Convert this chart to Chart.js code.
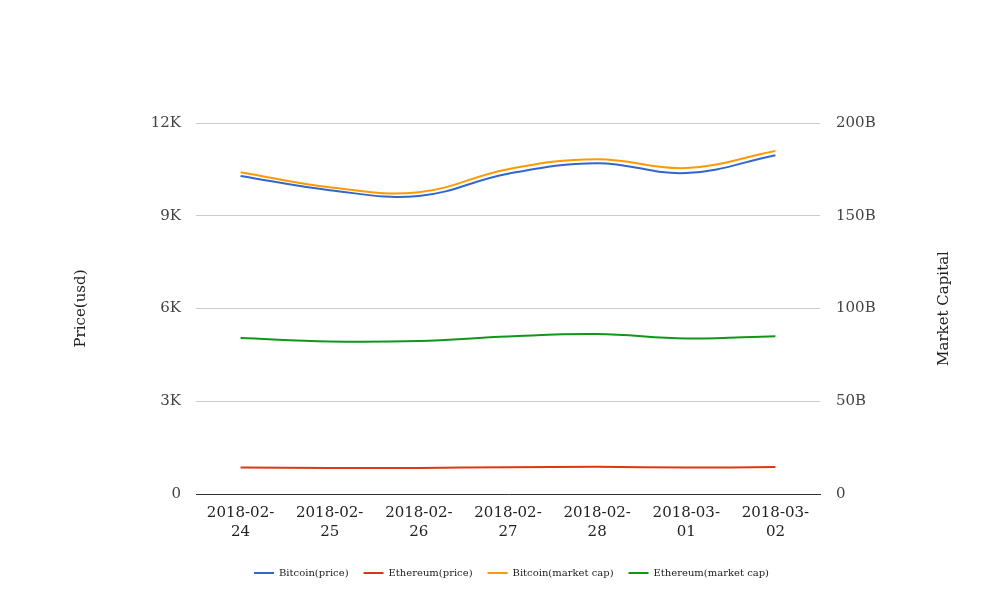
<!DOCTYPE html>
<html>
<head>
<meta charset="utf-8">
<script src="https://cdn.jsdelivr.net/npm/chart.js@4"></script>
<style>
html,body{margin:0;padding:0;background:#fff;}
#wrap{width:1008px;height:616px;position:relative;}
</style>
</head>
<body>
<div id="wrap"><canvas id="c" width="1008" height="616"></canvas></div>
<script>
const categories = [['2018-02-','24'],['2018-02-','25'],['2018-02-','26'],['2018-02-','27'],['2018-02-','28'],['2018-03-','01'],['2018-03-','02']];
const btcPrice = [10287, 9827, 9640, 10360, 10700, 10380, 10960];
const ethPrice = [860, 845, 845, 868, 878, 856, 870];
const btcCap = [173.5, 165.4, 162.7, 175.1, 180.5, 175.7, 184.9];
const ethCap = [84.1, 82.2, 82.5, 84.9, 86.2, 83.8, 85.1];
const priceTickLabels = ['0','3K','6K','9K','12K'];
const capTickLabels = ['0','50B','100B','150B','200B'];
const seriesNames = ['Bitcoin(price)','Ethereum(price)','Bitcoin(market cap)','Ethereum(market cap)'];
const leftTitle = 'Price(usd)';
const rightTitle = 'Market Capital';

const FONT = "'DejaVu Serif', serif";

const titlePlugin = {
  id: 'axisTitles',
  afterDraw(chart) {
    const ctx = chart.ctx;
    const ca = chart.chartArea;
    const cy = (ca.top + ca.bottom) / 2;
    [[81, leftTitle], [944, rightTitle]].forEach(([x, t]) => {
      ctx.save();
      ctx.font = "15px " + FONT;
      ctx.fillStyle = '#222';
      ctx.textAlign = 'center';
      ctx.textBaseline = 'middle';
      ctx.translate(x, cy);
      ctx.rotate(-Math.PI/2);
      ctx.fillText(t, 0, 0);
      ctx.restore();
    });
  }
};

function ds(label, data, color, axis) {
  return {label, data, borderColor: color, backgroundColor: color, borderWidth: 2,
    pointRadius: 0, pointHoverRadius: 0, tension: 0.4, fill: false, yAxisID: axis};
}

new Chart(document.getElementById('c'), {
  type: 'line',
  data: {
    labels: categories,
    datasets: [
      ds(seriesNames[0], btcPrice, '#3366cc', 'y'),
      ds(seriesNames[1], ethPrice, '#dc3912', 'y'),
      ds(seriesNames[2], btcCap, '#ff9900', 'y1'),
      ds(seriesNames[3], ethCap, '#109618', 'y1')
    ]
  },
  options: {
    responsive: false,
    animation: false,
    events: [],
    layout: { padding: { top: 123, left: 70, right: 55, bottom: 28 } },
    plugins: {
      tooltip: { enabled: false },
      legend: {
        position: 'bottom',
        labels: {
          boxWidth: 20, boxHeight: 2, padding: 15,
          color: '#222',
          font: { family: FONT, size: 10 },
          generateLabels(chart) {
            const items = Chart.defaults.plugins.legend.labels.generateLabels(chart);
            items.forEach(it => { it.lineWidth = 0; it.strokeStyle = 'rgba(0,0,0,0)'; });
            return items;
          }
        }
      }
    },
    scales: {
      x: {
        offset: true,
        grid: { display: false, drawTicks: false },
        border: { display: true, color: '#333', width: 1 },
        ticks: { color: '#222', font: { family: FONT, size: 15, lineHeight: 1.27 }, padding: 10, maxRotation: 0, autoSkip: false },
        afterFit(s) { s.height = 59; }
      },
      y: {
        position: 'left',
        min: 0, max: 12000,
        grid: { color: '#cccccc', drawTicks: false, lineWidth: 1 },
        border: { display: false },
        ticks: { stepSize: 3000, color: '#444', padding: 15, font: { family: FONT, size: 15 },
          callback: (v, i) => priceTickLabels[i] },
        afterFit(s) { s.width = 126; }
      },
      y1: {
        position: 'right',
        min: 0, max: 200,
        grid: { display: false, drawTicks: false },
        border: { display: false },
        ticks: { stepSize: 50, color: '#444', padding: 16, font: { family: FONT, size: 15 },
          callback: (v, i) => capTickLabels[i] },
        afterFit(s) { s.width = 133; }
      }
    }
  },
  plugins: [titlePlugin]
});
</script>
</body>
</html>
